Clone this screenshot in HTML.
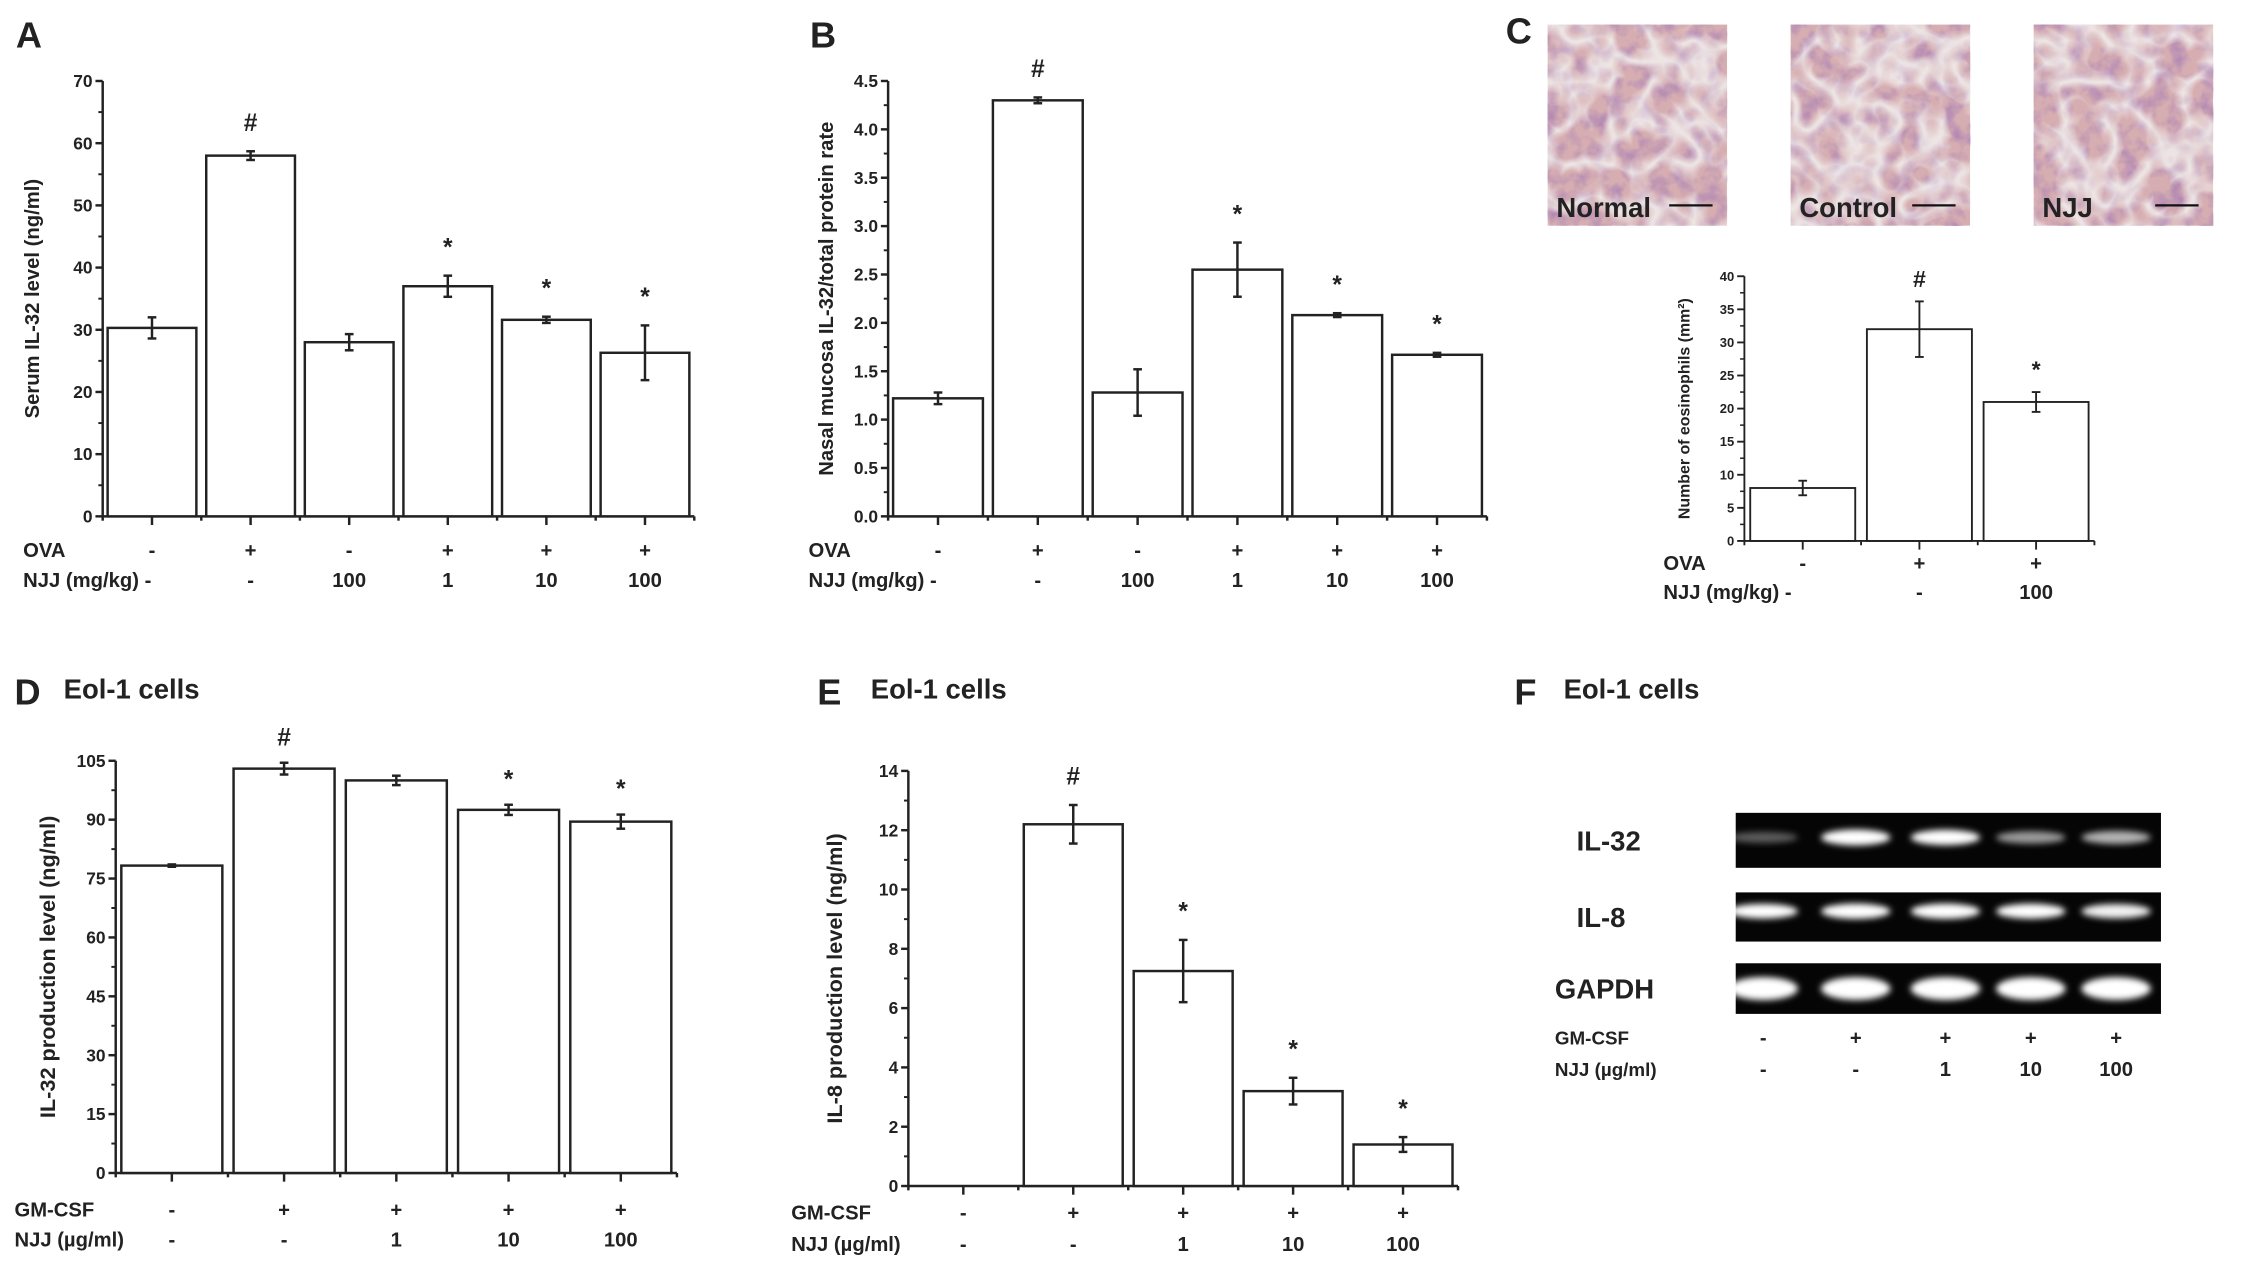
<!DOCTYPE html>
<html><head><meta charset="utf-8">
<style>
html,body{margin:0;padding:0;background:#fff;}
svg{display:block;}
text{font-family:"Liberation Sans",Arial,sans-serif;fill:#222;}
</style></head>
<body>
<svg id="fig" width="2268" height="1267" viewBox="0 0 1568 876" preserveAspectRatio="none" xmlns="http://www.w3.org/2000/svg">
<defs>
<filter id="blur" x="-20%" y="-50%" width="140%" height="200%"><feGaussianBlur stdDeviation="2.2"/></filter>
<filter id="tex" x="0" y="0" width="100%" height="100%"><feTurbulence type="fractalNoise" baseFrequency="0.09" numOctaves="3" seed="4"/><feColorMatrix values="0 0 0 0 0.45  0 0 0 0 0.25  0 0 0 0 0.45  0 0 0 2.2 -0.85"/></filter>
<filter id="tex2" x="0" y="0" width="100%" height="100%"><feTurbulence type="turbulence" baseFrequency="0.035" numOctaves="2" seed="9"/><feColorMatrix values="0 0 0 0 0.9  0 0 0 0 0.9  0 0 0 0 0.88  0 0 0 -3 1.1"/></filter>
</defs>
<g id="root"></g>
</svg>
<script>
// ---------- Panel A data ----------
const aCats = ['1','2','3','4','5','6'];
const aVals = [30.3, 58.0, 28.0, 37.0, 31.6, 26.3];
const aErrs = [1.7, 0.7, 1.3, 1.7, 0.5, 4.4];
const aMarks = ['', '#', '', '*', '*', '*'];
const aTicks = [0,10,20,30,40,50,60,70];
const aRow1 = ['-','+','-','+','+','+'];
const aRow2 = ['-','100','1','10','100'];
// ---------- Panel B data ----------
const bVals = [1.22, 4.30, 1.28, 2.55, 2.08, 1.67];
const bErrs = [0.06, 0.03, 0.24, 0.28, 0.02, 0.02];
const bMarks = ['', '#', '', '*', '*', '*'];
const bTicks = ['0.0','0.5','1.0','1.5','2.0','2.5','3.0','3.5','4.0','4.5'];
const bRow1 = ['-','+','-','+','+','+'];
const bRow2 = ['-','100','1','10','100'];
// ---------- Panel C data ----------
const cVals = [8.0, 32.0, 21.0];
const cErrs = [1.1, 4.2, 1.5];
const cMarks = ['', '#', '*'];
const cTicks = [0,5,10,15,20,25,30,35,40];
const cRow1 = ['-','+','+'];
const cRow2 = ['-','100'];
// ---------- Panel D data ----------
const dVals = [78.3, 103.0, 100.0, 92.5, 89.5];
const dErrs = [0.3, 1.5, 1.2, 1.3, 1.8];
const dMarks = ['', '#', '', '*', '*'];
const dTicks = [0,15,30,45,60,75,90,105];
const dRow1 = ['-','+','+','+','+'];
const dRow2 = ['-','-','1','10','100'];
// ---------- Panel E data ----------
const eVals = [0, 12.2, 7.25, 3.2, 1.4];
const eErrs = [0, 0.65, 1.05, 0.45, 0.25];
const eMarks = ['', '#', '*', '*', '*'];
const eTicks = [0,2,4,6,8,10,12,14];
const eRow1 = ['-','+','+','+','+'];
const eRow2 = ['-','-','1','10','100'];
// ---------- Panel F data (band intensities 0-1) ----------
const fGenes = ['IL-32','IL-8','GAPDH'];
const fIL32 = [0.15, 1.0, 0.9, 0.4, 0.5];
const fIL8 = [0.8, 0.9, 0.9, 0.85, 0.75];
const fGAPDH = [1.0, 1.0, 1.0, 1.0, 1.0];
const fRow1 = ['-','+','+','+','+'];
const fRow2 = ['-','-','1','10','100'];

const NS = 'http://www.w3.org/2000/svg';
const root = document.getElementById('root');
function el(tag, attrs, parent, txt){
  const e = document.createElementNS(NS, tag);
  for (const k in attrs) e.setAttribute(k, attrs[k]);
  if (txt !== undefined) e.textContent = txt;
  (parent || root).appendChild(e);
  return e;
}

function chart(o){
  const g = el('g', {});
  
  
  const n = o.vals.length;
  const band = (o.x1 - o.x0) / n;
  const yS = v => o.yb - (v / o.max) * (o.yb - o.yt);
  const xC = i => o.x0 + band * (i + 0.5);
  const sw = o.sw || 1.7;
  const ya = el('line', {x1:o.x0, y1:o.yb, x2:o.x0, y2:o.yt, stroke:'#222','stroke-width':sw}, g);
  
  
  const step = o.max / (o.ticks.length - 1);
  o.ticks.forEach((t, i) => {
    const y = yS(step * i);
    el('line', {x1:o.x0-5, y1:y, x2:o.x0, y2:y, stroke:'#222','stroke-width':sw}, g);
    const tl = el('text', {x:o.x0-7, y:y+o.tf*0.35, 'font-size':o.tf, 'font-weight':'bold', 'text-anchor':'end'}, g, String(t));
    
    
    if (i < o.ticks.length - 1) {
      const ym = yS(step * (i + 0.5));
      el('line', {x1:o.x0-3, y1:ym, x2:o.x0, y2:ym, stroke:'#222','stroke-width':sw*0.8}, g);
    }
  });
  const xa = el('line', {x1:o.x0, y1:o.yb, x2:o.x1, y2:o.yb, stroke:'#222','stroke-width':sw}, g);
  
  
  for (let i = 0; i <= n; i++) {
    const x = o.x0 + band * i;
    el('line', {x1:x, y1:o.yb, x2:x, y2:o.yb+3, stroke:'#222','stroke-width':sw}, g);
  }
  o.vals.forEach((v, i) => {
    const w = band * 0.9;
    const x = xC(i) - w / 2;
    el('line', {x1:xC(i), y1:o.yb, x2:xC(i), y2:o.yb+6, stroke:'#222','stroke-width':sw}, g);
    if (v > 0) {
      const b = el('rect', {x:x, y:yS(v), width:w, height:o.yb - yS(v), fill:'#fff', stroke:'#222','stroke-width':sw}, g);
      
      
    }
    const e = o.errs[i];
    if (e > 0) {
      const eg = el('g', {stroke:'#222','stroke-width':sw}, g);
      
      
      el('line', {x1:xC(i), y1:yS(v+e), x2:xC(i), y2:yS(v-e)}, eg);
      el('line', {x1:xC(i)-3, y1:yS(v+e), x2:xC(i)+3, y2:yS(v+e)}, eg);
      el('line', {x1:xC(i)-3, y1:yS(v-e), x2:xC(i)+3, y2:yS(v-e)}, eg);
    }
    if (o.marks[i]) {
      const m = el('text', {x:xC(i), y:yS(v+e) - o.moff, 'font-size':o.mf, 'font-weight':'bold', 'text-anchor':'middle'}, g, o.marks[i]);
      
      
    }
  });
  const yt = el('text', {x:o.ytx, y:(o.yb + o.yt)/2, 'font-size':o.ytf, 'font-weight':'bold', 'text-anchor':'middle', transform:`rotate(-90 ${o.ytx} ${(o.yb + o.yt)/2})`}, g, o.ytitle);
  
  
  const r1 = el('text', {x:o.lx, y:o.r1y, 'font-size':o.rf, 'font-weight':'bold'}, g, o.r1name);
  
  
  o.row1.forEach((s, i) => el('text', {x:xC(i), y:o.r1y, 'font-size':o.rf, 'font-weight':'bold', 'text-anchor':'middle'}, g, s));
  const r2 = el('text', {x:o.lx, y:o.r2y, 'font-size':o.rf, 'font-weight':'bold'}, g, o.r2name);
  
  
  const off = n - o.row2.length;
  o.row2.forEach((s, i) => el('text', {x:xC(i + off), y:o.r2y, 'font-size':o.rf, 'font-weight':'bold', 'text-anchor':'middle'}, g, s));
}

function letter(t, x, y, name){
  const e = el('text', {x:x, y:y, 'font-size':25, 'font-weight':'bold'}, root, t);
  
  
}
function subtitle(x, y){
  const e = el('text', {x:x, y:y, 'font-size':19, 'font-weight':'bold'}, root, 'Eol-1 cells');
  
  
}

letter('A', 11, 33, 'panel-a-label');
letter('B', 560, 33, 'panel-b-label');
letter('C', 1041, 30, 'panel-c-label');
letter('D', 10, 487, 'panel-d-label');
letter('E', 565, 487, 'panel-e-label');
letter('F', 1047, 487, 'panel-f-label');
subtitle(44, 483); subtitle(602, 483); subtitle(1081, 483);

chart({name:'chart-a-serum-il32', x0:71, x1:480, yb:357, yt:56, max:70, vals:aVals, errs:aErrs, marks:aMarks, ticks:aTicks, tf:12, mf:17, moff:14,
  ytitle:'Serum IL-32 level (ng/ml)', ytx:27, ytf:14, lx:16, r1y:385, r2y:406, rf:14, r1name:'OVA', r2name:'NJJ (mg/kg) -', row1:aRow1, row2:aRow2});
chart({name:'chart-b-nasal-il32', x0:614, x1:1028, yb:357, yt:56, max:4.5, vals:bVals, errs:bErrs, marks:bMarks, ticks:bTicks, tf:12, mf:17, moff:14,
  ytitle:'Nasal mucosa IL-32/total protein rate', ytx:576, ytf:14, lx:559, r1y:385, r2y:406, rf:14, r1name:'OVA', r2name:'NJJ (mg/kg) -', row1:bRow1, row2:bRow2});
chart({name:'chart-c-eosinophils', x0:1206, x1:1448, yb:374, yt:191, max:40, vals:cVals, errs:cErrs, marks:cMarks, ticks:cTicks, tf:9, mf:16, moff:10, sw:1.3,
  ytitle:'Number of eosinophils (mm²)', ytx:1168, ytf:11, lx:1150, r1y:394, r2y:414, rf:14, r1name:'OVA', r2name:'NJJ (mg/kg) -', row1:cRow1, row2:cRow2});
chart({name:'chart-d-il32-production', x0:80, x1:468, yb:811, yt:526, max:105, vals:dVals, errs:dErrs, marks:dMarks, ticks:dTicks, tf:12, mf:17, moff:12,
  ytitle:'IL-32 production level (ng/ml)', ytx:38, ytf:15, lx:10, r1y:841, r2y:862, rf:14, r1name:'GM-CSF', r2name:'NJJ (µg/ml)', row1:dRow1, row2:dRow2});
chart({name:'chart-e-il8-production', x0:628, x1:1008, yb:820, yt:533, max:14, vals:eVals, errs:eErrs, marks:eMarks, ticks:eTicks, tf:12, mf:17, moff:14,
  ytitle:'IL-8 production level (ng/ml)', ytx:582, ytf:15, lx:547, r1y:843, r2y:865, rf:14, r1name:'GM-CSF', r2name:'NJJ (µg/ml)', row1:eRow1, row2:eRow2});

// Panel C histology images
['Normal','Control','NJJ'].forEach((t, i) => {
  const x = 1070 + i * 168, y = 17, w = 124, h = 139;
  const g = el('g', {});
  
  
  el('rect', {x:x, y:y, width:w, height:h, fill:'#d6aeb2'}, g);
  el('rect', {x:x, y:y, width:w, height:h, filter:'url(#tex)'}, g);
  el('rect', {x:x, y:y, width:w, height:h, filter:'url(#tex2)', opacity:0.8}, g);
  el('line', {x1:x+w-40, y1:y+h-14, x2:x+w-10, y2:y+h-14, stroke:'#111','stroke-width':1.5}, g);
  el('text', {x:x+6, y:y+h-6, 'font-size':19, 'font-weight':'bold', fill:'#111'}, g, t);
});

// Panel F gel
const lanes = [1219, 1283, 1345, 1404, 1463];
const gels = [[fIL32, 562, 38], [fIL8, 617, 34], [fGAPDH, 666, 35]];
gels.forEach(([arr, y, h], gi) => {
  const g = el('g', {});
  
  
  el('rect', {x:1200, y:y, width:294, height:h, fill:'#050505'}, g);
  arr.forEach((v, i) => {
    const bh = gi === 2 ? 12 : 7;
    const b = el('ellipse', {cx:lanes[i], cy:y + h/2 + (gi===0?-2:gi===1?-4:0), rx:24, ry:bh/2 + v*2, fill:'#fff', opacity:Math.min(1, 0.2 + v), filter:'url(#blur)'}, g);
    
    
  });
  const lb = el('text', {x:gi===2?1075:1090, y:y + h/2 + 7, 'font-size':19, 'font-weight':'bold'}, g, fGenes[gi]);
  
  
});
const fr1 = el('text', {x:1075, y:722, 'font-size':13, 'font-weight':'bold'}, root, 'GM-CSF');


const fr2 = el('text', {x:1075, y:744, 'font-size':13, 'font-weight':'bold'}, root, 'NJJ (µg/ml)');


fRow1.forEach((s, i) => el('text', {x:lanes[i], y:722, 'font-size':14, 'font-weight':'bold', 'text-anchor':'middle'}, root, s));
fRow2.forEach((s, i) => el('text', {x:lanes[i], y:744, 'font-size':14, 'font-weight':'bold', 'text-anchor':'middle'}, root, s));
</script>
</body></html>
